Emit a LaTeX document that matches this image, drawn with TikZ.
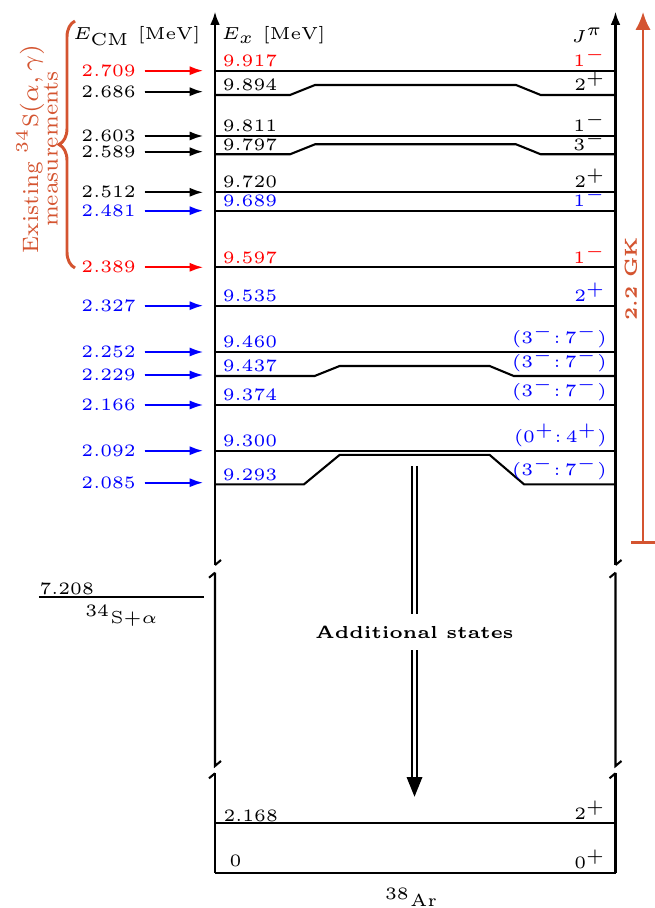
\documentclass[tikz,border=0pt]{standalone}
\usetikzlibrary{arrows.meta,decorations.pathreplacing}
\font\rfive=cmr5 at 5pt
\font\bfive=cmbx5 at 5pt
\font\rseven=cmr7 at 6.4pt
\definecolor{orng}{RGB}{212,84,48}
\begin{document}
\begin{tikzpicture}[x=0.2874pt,y=-0.2874pt,
  lvl/.style={line width=0.6pt},
  tf/.style={font=\tiny\rfive},
  ex/.style={tf,anchor=south west,inner sep=1pt},
  jp/.style={tf,anchor=south east,inner sep=1pt},
  ecm/.style={tf,anchor=east,inner sep=2.3pt},
  inarr/.style={line width=0.6pt,-{Latex[length=3.9pt,width=2.6pt]}},
  axarr/.style={line width=0.6pt,-{Latex[length=3.8pt,width=2.8pt]}},
]
\useasboundingbox (0,0) rectangle (655,908);

% axes with breaks
\foreach \x/\n in {215/L,615.5/R}{
  \coordinate (top\n) at (\x,11.7);
  \coordinate (brk\n) at (\x,565);
  \draw[axarr] (brk\n) -- (top\n);
  \draw[lvl] (brk\n) -- ++(6,-5);
  \draw[lvl] (\x,572.7) -- ++(-6,5);
  \draw[lvl] (\x,572.7) -- (\x,766) -- ++(6,-5);
  \draw[lvl] (\x,773.3) -- ++(-6,5);
  \draw[lvl] (\x,773.3) -- (\x,872.7);
}

% headers
\node[tf,anchor=base east,inner sep=0] (hcm) at (201,40) {$E_{\rm CM}$ [MeV]};
\node[tf,anchor=base west,inner sep=0] (hex) at (221,40) {$E_x$ [MeV]};
\node[tf,anchor=base east,inner sep=0] (hjp) at (604,42.5) {$J^\pi$};

% levels
\draw[lvl] (215,70.7) -- (615.5,70.7);
\node[ex,red] at (218.7,70.7) {9.917};
\node[jp,red] at (610,70.7) {$1^-$};

\draw[lvl] (215,95) -- (290,95) -- (315,85) -- (516,85) -- (540.7,95) -- (615.5,95);
\node[ex] at (218.7,95) {9.894};
\node[jp] at (610,95) {$2^+$};

\draw[lvl] (215,135.7) -- (615.5,135.7);
\node[ex] at (218.7,135.7) {9.811};
\node[jp] at (610,135.7) {$1^-$};

\draw[lvl] (215,154.3) -- (290,154.3) -- (315,144.3) -- (516,144.3) -- (540.7,154.3) -- (615.5,154.3);
\node[ex] at (218.7,154.3) {9.797};
\node[jp] at (610,154.3) {$3^-$};

\draw[lvl] (215,191.7) -- (615.5,191.7);
\node[ex] at (218.7,191.7) {9.720};
\node[jp] at (610,191.7) {$2^+$};

\draw[lvl] (215,210.7) -- (615.5,210.7);
\node[ex,blue] at (218.7,210.7) {9.689};
\node[jp,blue] at (610,210.7) {$1^-$};

\draw[lvl] (215,267.3) -- (615.5,267.3);
\node[ex,red] at (218.7,267.3) {9.597};
\node[jp,red] at (610,267.3) {$1^-$};

\draw[lvl] (215,305.7) -- (615.5,305.7);
\node[ex,blue] at (218.7,305.7) {9.535};
\node[jp,blue] at (610,305.7) {$2^+$};

\draw[lvl] (215,351.7) -- (615.5,351.7);
\node[ex,blue] at (218.7,351.7) {9.460};
\node[jp,blue] at (611,351.7) {$(3^-{:}\,7^-)$};

\draw[lvl] (215,376) -- (314.6,376) -- (339.6,366) -- (489.6,366) -- (513.75,376) -- (615.5,376);
\node[ex,blue] at (218.7,376) {9.437};
\node[jp,blue] at (611,376) {$(3^-{:}\,7^-)$};

\draw[lvl] (215,404.7) -- (615.5,404.7);
\node[ex,blue] at (218.7,404.7) {9.374};
\node[jp,blue] at (611,404.7) {$(3^-{:}\,7^-)$};

\draw[lvl] (215,450.7) -- (615.5,450.7);
\node[ex,blue] at (218.7,450.7) {9.300};
\node[jp,blue] at (611,450.7) {$(0^+{:}\,4^+)$};

\draw[lvl] (215,484.3) -- (304,484.3) -- (339.6,454.9) -- (489.6,454.9) -- (524,484.3) -- (615.5,484.3);
\node[ex,blue] at (218.7,484.3) {9.293};
\node[jp,blue] at (611,484.3) {$(3^-{:}\,7^-)$};

\draw[lvl] (215,823.3) -- (615.5,823.3);
\node[tf,anchor=south west,inner sep=0.4pt] at (221.5,823.3) {2.168};
\node[jp] at (610,823.3) {$2^+$};

\draw[lvl] (215,872.7) -- (615.5,872.7);
\node[tf,anchor=base west,inner sep=0] at (229,866) {0};
\node[jp] at (610,872.7) {$0^+$};

% incoming arrows (E_CM)
\foreach \v/\y/\c [count=\i] in {2.709/70.7/red, 2.686/91.7/black, 2.603/136/black, 2.589/151.7/black, 2.512/192.3/black, 2.481/210.7/blue, 2.389/267.3/red, 2.327/305.7/blue, 2.252/352/blue, 2.229/375/blue, 2.166/405/blue, 2.092/450.7/blue, 2.085/482.7/blue}{
  \node[ecm,text=\c] (cm\i) at (144.5,\y) {\v};
  \coordinate (tg\i) at (203.3,\y);
  \draw[inarr,draw=\c,fill=\c] (cm\i) -- (tg\i);
}

% separation energy
\coordinate (sa) at (38.75,596.7);
\coordinate (sb) at (204,596.7);
\draw[lvl] (sa) -- (sb);
\node[tf,anchor=south west,inner sep=0.4pt] (sep) at (37.5,596.7) {7.208};
\node[tf,anchor=north,inner sep=2.2pt] (chan) at (121.4,596.7) {$^{34}$S+$\alpha$};

% additional states double arrow
\coordinate (dtop) at (414.5,466);
\coordinate (dbase) at (414.5,777);
\coordinate (dtip) at (414.5,796.7);
\draw[line width=0.65pt,double,double distance=0.7pt] (dtop) -- (dbase);
\fill (406.5,777) -- (dtip) -- (422.5,777) -- cycle;
\node[font=\tiny\bfive,fill=white,inner sep=3.5pt] (add) at (414.5,632) {Additional states};

% nucleus label
\node[tf,anchor=base,inner sep=0] (nuc) at (411,906.3) {$^{38}$Ar};

% brace and existing measurements
\draw[orng,line width=0.85pt,decorate,decoration={brace,amplitude=4.6pt}] (75,268) -- (75,21);
\node[orng,font=\scriptsize\rseven,rotate=90,align=center,inner sep=0] (exist) at (37,149) {Existing $^{34}$S$(\alpha,\gamma)$\\[-2.4pt] measurements};

% 2.2 GK arrow
\coordinate (gkb) at (643,544.3);
\coordinate (gkt) at (643,11.7);
\draw[orng,line width=0.85pt,{Bar[width=6.8pt]}-{Latex[length=5.2pt,width=4.4pt]}] (gkb) -- (gkt);
\node[orng,font=\tiny\bfive,rotate=90,inner sep=0] (gk) at (631,279) {2.2 GK};
\end{tikzpicture}
\end{document}
